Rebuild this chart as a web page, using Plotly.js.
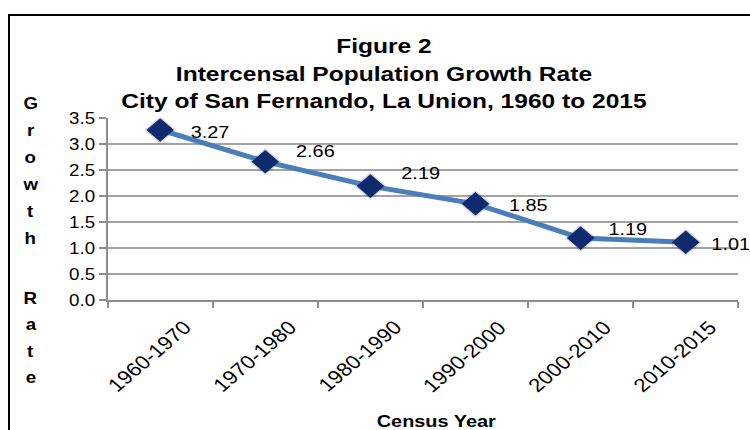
<!DOCTYPE html>
<html><head><meta charset="utf-8">
<script src="https://cdn.plot.ly/plotly-3.0.1.min.js"></script>
<style>
html,body{margin:0;padding:0;width:750px;height:430px;overflow:hidden;background:#fff;}
#wrap{position:absolute;left:0;top:0;width:641px;height:430px;transform:scaleX(1.17);transform-origin:0 0;}
#frame{position:absolute;left:8px;top:14px;width:900px;height:600px;border:2px solid #000;pointer-events:none;}
</style></head><body>
<div id="wrap"><div id="chart" style="width:641px;height:430px"></div></div>
<div id="frame"></div>
<script>
// ---- data ----
const periods = ["1960-1970","1970-1980","1980-1990","1990-2000","2000-2010","2010-2015"];
const growthRate = [3.27, 2.66, 2.19, 1.85, 1.19, 1.11];
const rateLabels = ["3.27","2.66","2.19","1.85","1.19","1.01"];
const yTicks = [0, 0.5, 1.0, 1.5, 2.0, 2.5, 3.0, 3.5];
const yTickLabels = ["0.0","0.5","1.0","1.5","2.0","2.5","3.0","3.5"];
const titleLines = ["Figure 2","Intercensal Population Growth Rate","City of San Fernando, La Union, 1960 to 2015"];
const yTitleWords = ["Growth","Rate"];
const xTitle = "Census Year";

// ---- style / positions ----
const FONT = "Liberation Sans, Arial, Helvetica, sans-serif";
const labelShiftX = [43, 43, 43, 45, 40, 38];
const labelShiftY = [-3, 10, 13, -2, 9, -2];
const plotTop = 118, plotH = 182;
function paperY(px){ return (plotTop + plotH - px) / plotH; }

const annotations = [];
growthRate.forEach((v, i) => {
  annotations.push({
    x: periods[i], y: v, xref: 'x', yref: 'y',
    text: rateLabels[i], showarrow: false,
    xanchor: 'center', yanchor: 'middle',
    xshift: labelShiftX[i], yshift: labelShiftY[i],
    font: {family: FONT, size: 17, color: '#000'}
  });
});
// rotated category labels
periods.forEach((p) => {
  annotations.push({
    x: p, xref: 'x', y: paperY(356), yref: 'paper',
    text: p, showarrow: false, textangle: -45,
    xanchor: 'center', yanchor: 'middle', xshift: -9.5,
    font: {family: FONT, size: 19, color: '#000'}
  });
});
// stacked y-axis title letters
const wordStarts = [103, 298];
const wordSteps = [27, 26.5];
yTitleWords.forEach((w, wi) => {
  w.split('').forEach((ch, ci) => {
    annotations.push({
      x: -0.122, y: paperY(wordStarts[wi] + ci * wordSteps[wi]),
      xref: 'paper', yref: 'paper', text: ch, showarrow: false,
      xanchor: 'center', yanchor: 'middle',
      font: {family: FONT, size: 16, color: '#000', weight: 'bold'}
    });
  });
});
annotations.push({
  x: 0.522, y: paperY(422), xref: 'paper', yref: 'paper',
  text: xTitle, showarrow: false, xanchor: 'center', yanchor: 'middle',
  font: {family: FONT, size: 17, color: '#000', weight: 'bold'}
});

const shadow = {
  x: periods, y: growthRate, type: 'scatter', mode: 'markers',
  marker: {symbol: 'diamond', size: 21, color: 'rgba(15,43,110,0.18)', line: {width: 0}},
  hoverinfo: 'skip', showlegend: false
};
const trace = {
  x: periods, y: growthRate, type: 'scatter', mode: 'lines+markers',
  line: {color: '#4a7ebb', width: 5},
  marker: {symbol: 'diamond', size: 17, color: '#0f2b6e', line: {color: '#0f2b6e', width: 1}},
  hoverinfo: 'skip', showlegend: false
};

const layout = {
  width: 641, height: 430,
  margin: {l: 92, r: 10, t: 118, b: 130},
  paper_bgcolor: 'rgba(0,0,0,0)', plot_bgcolor: 'rgba(0,0,0,0)',
  title: {
    text: titleLines.join('<br>'),
    font: {family: FONT, size: 21, color: '#000', weight: 'bold'},
    x: 0.512, xanchor: 'center', xref: 'container',
    y: 1 - 53.5/430, yanchor: 'top', yref: 'container'
  },
  xaxis: {
    type: 'category', range: [-0.5, 5.5], tickson: 'boundaries',
    ticks: 'outside', ticklen: 6, tickcolor: '#8c8c8c', tickwidth: 1.5,
    showline: true, linecolor: '#8c8c8c', linewidth: 1.5,
    showgrid: false, zeroline: false, showticklabels: false, fixedrange: true
  },
  yaxis: {
    range: [0, 3.5], tickmode: 'array', tickvals: yTicks, ticktext: yTickLabels,
    ticks: 'outside', ticklen: 6, tickcolor: '#8c8c8c', tickwidth: 1.5,
    showline: true, linecolor: '#8c8c8c', linewidth: 1.5,
    showgrid: true, gridcolor: '#a3a3a3', gridwidth: 1.5, zeroline: false,
    tickfont: {family: FONT, size: 16, color: '#000'}, fixedrange: true
  },
  annotations: annotations
};

Plotly.newPlot('chart', [shadow, trace], layout, {displayModeBar: false, staticPlot: true});
</script>
</body></html>
